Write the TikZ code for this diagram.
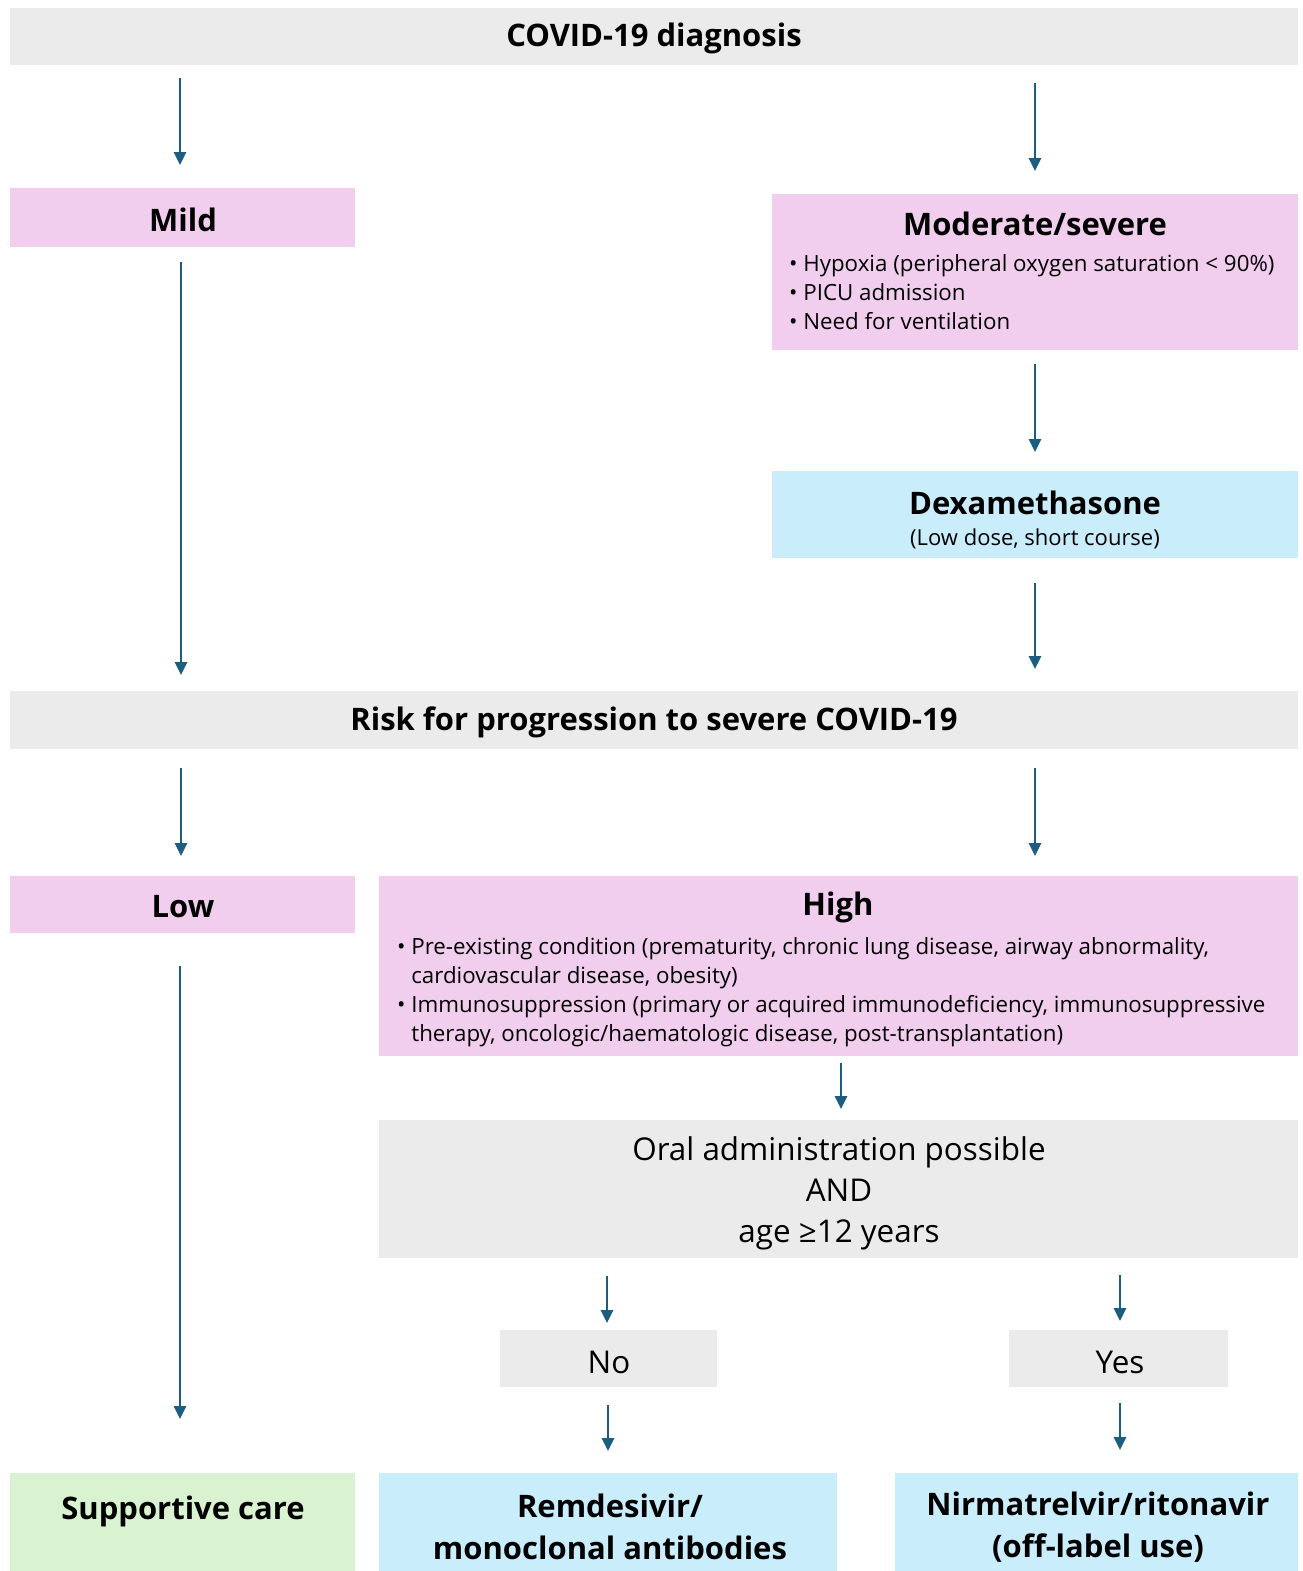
\documentclass[tikz,border=0pt]{standalone}
\usepackage{fontspec}
\setmainfont{Open Sans}
\usetikzlibrary{arrows.meta}
\definecolor{bgray}{HTML}{EBEBEB}
\definecolor{bpink}{HTML}{F2CEEE}
\definecolor{bblue}{HTML}{CAEDFB}
\definecolor{bgreen}{HTML}{D9F2D0}
\definecolor{arrc}{HTML}{1B5E80}
\tikzset{
  box/.style={draw=none, inner sep=0pt, outer sep=0pt, anchor=north west},
  arr/.style={draw=arrc, line width=2.6pt, -{Triangle[width=12pt,length=13pt]}},
  ttl/.style={inner sep=0pt, font=\fontsize{31}{34}\selectfont\bfseries},
  sub/.style={inner sep=0pt, font=\fontsize{22}{29}\selectfont},
  blist/.style={inner sep=0pt, anchor=north west, align=left, font=\fontsize{22.3}{29}\selectfont},
  big/.style={inner sep=0pt, align=center, font=\fontsize{31.4}{41}\selectfont},
  bot/.style={inner sep=0pt, align=center, font=\fontsize{31}{42}\selectfont\bfseries},
}
\begin{document}
\begin{tikzpicture}[x=1pt,y=-1pt]
\useasboundingbox (0,0) rectangle (1302,1571);
% boxes
\node[box, fill=bgray, minimum width=1288pt, minimum height=57pt] (top) at (10,8) {};
\node[box, fill=bpink, minimum width=345pt, minimum height=59pt] (mild) at (10,188) {};
\node[box, fill=bpink, minimum width=526pt, minimum height=156pt] (mod) at (772,194) {};
\node[box, fill=bblue, minimum width=526pt, minimum height=87pt] (dex) at (772,471) {};
\node[box, fill=bgray, minimum width=1288pt, minimum height=58pt] (risk) at (10,691) {};
\node[box, fill=bpink, minimum width=345pt, minimum height=57pt] (low) at (10,876) {};
\node[box, fill=bpink, minimum width=919pt, minimum height=180pt] (high) at (379,876) {};
\node[box, fill=bgray, minimum width=919pt, minimum height=138pt] (oral) at (379,1120) {};
\node[box, fill=bgray, minimum width=217pt, minimum height=57pt] (no) at (500,1330) {};
\node[box, fill=bgray, minimum width=219pt, minimum height=57pt] (yes) at (1009,1330) {};
\node[box, fill=bgreen, minimum width=345pt, minimum height=98pt] (supp) at (10,1473) {};
\node[box, fill=bblue, minimum width=458pt, minimum height=98pt] (remd) at (379,1473) {};
\node[box, fill=bblue, minimum width=403pt, minimum height=98pt] (nirm) at (895,1473) {};
% texts
\node[ttl] (ttop) at (654,38) {COVID-19 diagnosis};
\node[ttl] (tmild) at (183,220) {Mild};
\node[ttl] (tmod) at (1035,224) {Moderate/severe};
\node[blist] (tmodl) at (789,254) {• Hypoxia (peripheral oxygen saturation < 90\%)\\• PICU admission\\• Need for ventilation};
\node[ttl] (tdex) at (1035,503) {Dexamethasone};
\node[sub] (tdexs) at (1035,539) {(Low dose, short course)};
\node[ttl] (trisk) at (654,722) {Risk for progression to severe COVID-19};
\node[ttl] (tlow) at (183,907) {Low};
\node[ttl] (thigh) at (838,907) {High};
\node[blist] (thighl) at (397,937) {• Pre-existing condition (prematurity, chronic lung disease, airway abnormality,\\\hphantom{• }cardiovascular disease, obesity)\\• Immunosuppression (primary or acquired immunodeficiency, immunosuppressive\\\hphantom{• }therapy, oncologic/haematologic disease, post-transplantation)};
\node[big] (toral) at (839,1193) {Oral administration possible\\AND\\age ≥12 years};
\node[big] (tno) at (609,1362) {No};
\node[big] (tyes) at (1120,1362) {Yes};
\node[bot] (tsupp) at (183,1511) {Supportive care};
\node[bot] (tremd) at (610,1527) {Remdesivir/\\monoclonal antibodies};
\node[bot] (tnirm) at (1098,1527) {Nirmatrelvir/ritonavir\\(off-label use)};
% arrows
\draw[arr, shorten <=13pt, shorten >=23pt] (top.south -| 180,0) -- (mild.north -| 180,0);
\draw[arr, shorten <=18pt, shorten >=23pt] (top.south -| mod.north) -- (mod.north);
\draw[arr, shorten <=15pt, shorten >=16pt] (mild.south -| 181,0) -- (risk.north -| 181,0);
\draw[arr, shorten <=14pt, shorten >=19pt] (mod.south) -- (dex.north);
\draw[arr, shorten <=25pt, shorten >=22pt] (dex.south) -- (risk.north -| dex.south);
\draw[arr, shorten <=19pt, shorten >=20pt] (risk.south -| 181,0) -- (low.north -| 181,0);
\draw[arr, shorten <=19pt, shorten >=20pt] (risk.south -| 1035,0) -- (high.north -| 1035,0);
\draw[arr, shorten <=7pt, shorten >=11pt] (high.south -| 841,0) -- (oral.north -| 841,0);
\draw[arr, shorten <=33pt, shorten >=54pt] (low.south -| 180,0) -- (supp.north -| 180,0);
\draw[arr, shorten <=18pt, shorten >=7pt] (oral.south -| 607,0) -- (no.north -| 607,0);
\draw[arr, shorten <=17pt, shorten >=9pt] (oral.south -| 1120,0) -- (yes.north -| 1120,0);
\draw[arr, shorten <=18pt, shorten >=22pt] (no.south -| 608,0) -- (remd.north -| 608,0);
\draw[arr, shorten <=16pt, shorten >=23pt] (yes.south -| 1120,0) -- (nirm.north -| 1120,0);
\end{tikzpicture}
\end{document}
